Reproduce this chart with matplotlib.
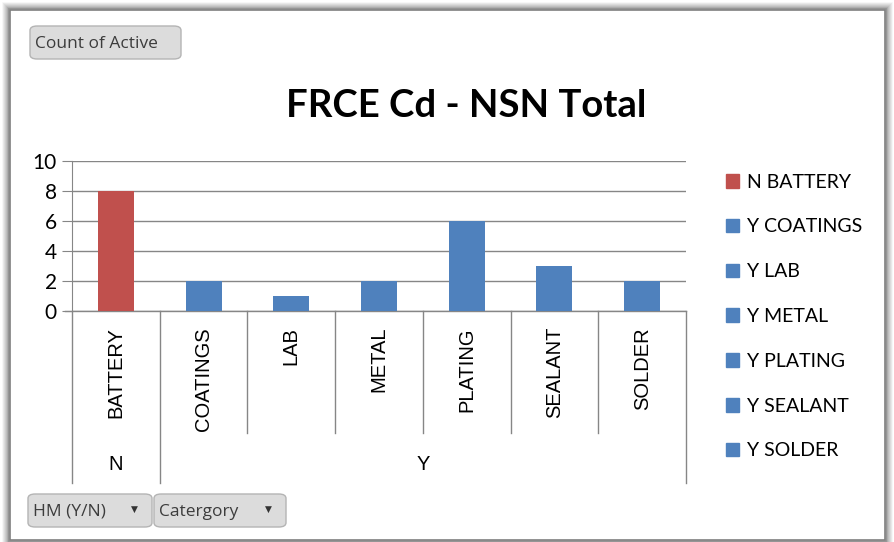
import matplotlib.pyplot as plt
from matplotlib.patches import Rectangle, FancyBboxPatch
from matplotlib.lines import Line2D

# data
categories = ['BATTERY', 'COATINGS', 'LAB', 'METAL', 'PLATING', 'SEALANT', 'SOLDER']
groups = ['N', 'Y', 'Y', 'Y', 'Y', 'Y', 'Y']
counts = [8, 2, 1, 2, 6, 3, 2]
yticks = [0, 2, 4, 6, 8, 10]

RED = '#C0504D'
BLUE = '#4F81BD'
GRID = '#868686'
W, H = 894, 542

plt.rcParams['font.family'] = ['Lato', 'DejaVu Sans']

fig = plt.figure(figsize=(W / 100, H / 100), dpi=100)


def fx(px):
    return px / W


def fy(py):
    return 1 - py / H


# frame with soft shadow (behind the axes)
for i, a in enumerate([0.04, 0.07, 0.10, 0.14, 0.18, 0.24, 0.32]):
    d = 7 - i
    fig.add_artist(Rectangle((fx(10 - d), fy(540 + d)), fx(875 + 2 * d), (530 + 2 * d) / H,
                             transform=fig.transFigure, fill=False,
                             edgecolor='black', alpha=a, lw=1.2, zorder=-5))
fig.add_artist(Rectangle((fx(10), fy(540)), fx(875), 530 / H, transform=fig.transFigure,
                         facecolor='white', edgecolor='#7f7f7f', lw=1.2, zorder=-4))


def button(x0, y0, x1, y1, label, arrow=False):
    fig.add_artist(FancyBboxPatch((fx(x0), fy(y1)), fx(x1 - x0), (y1 - y0) / H,
                                  boxstyle='round,pad=0,rounding_size=0.008',
                                  transform=fig.transFigure, facecolor='#DCDCDC',
                                  edgecolor='#B4B4B4', lw=1))
    fig.text(fx(x0 + 5), fy((y0 + y1) / 2 + 1), label, fontsize=12.5, color='#3c3c3c',
             ha='left', va='center', family=['Open Sans', 'DejaVu Sans'])
    if arrow:
        fig.text(fx(x1 - 18), fy((y0 + y1) / 2 - 1), '\u25BC', fontsize=6.5, color='#333333',
                 ha='center', va='center', family='DejaVu Sans')


button(30, 26, 181, 59, 'Count of Active')
button(28, 494, 152, 527, 'HM (Y/N)', arrow=True)
button(154, 494, 286, 527, 'Catergory', arrow=True)

fig.text(fx(466), fy(106), 'FRCE Cd - NSN Total', fontsize=27.5, fontweight='bold',
         ha='center', va='center')

# plot area
ax = fig.add_axes([fx(72), fy(311), fx(614), 150 / H])
ax.patch.set_alpha(0)
x = list(range(len(categories)))
colors = [RED if g == 'N' else BLUE for g in groups]
bars = ax.bar(x, counts, width=0.41, color=colors, zorder=3)
ax.set_xlim(-0.5, len(categories) - 0.5)
ax.set_ylim(0, 10)
ax.set_yticks(yticks)
ax.yaxis.grid(True, color=GRID, lw=1)
ax.set_axisbelow(True)
for s in ['top', 'right', 'bottom']:
    ax.spines[s].set_visible(False)
ax.spines['left'].set_color(GRID)
ax.tick_params(axis='y', length=7, color=GRID, labelsize=15, pad=4)
ax.set_xticks([])
ax.axhline(0, color=GRID, lw=1, xmin=-7 / 614, clip_on=False, zorder=2)

# category labels and group separators below the axis
tr = ax.get_xaxis_transform()
px_y = lambda py: (311 - py) / 150
for i, name in enumerate(categories):
    ax.text(i, px_y(327), name, transform=tr, rotation=90, ha='center', va='top',
            fontsize=14.5, family=['Liberation Sans', 'DejaVu Sans'])
bounds = [i - 0.5 for i in range(len(categories) + 1)]
for i, b in enumerate(bounds):
    outer = i == 0 or i == len(bounds) - 1 or groups[i - 1] != groups[i]
    bottom = px_y(483) if outer else px_y(433)
    ax.add_line(Line2D([b, b], [0, bottom], transform=tr, color=GRID, lw=1, clip_on=False))
group_names = []
for g in groups:
    if g not in group_names:
        group_names.append(g)
for g in group_names:
    idx = [i for i, gg in enumerate(groups) if gg == g]
    ax.text((idx[0] + idx[-1]) / 2, px_y(465), g, transform=tr, ha='center', va='center',
            fontsize=14.5, family=['Liberation Sans', 'DejaVu Sans'])

# legend
handles = [Rectangle((0, 0), 1, 1, color=c) for c in colors]
labels = [f'{g} {c}' for g, c in zip(groups, categories)]
fig.legend(handles, labels, loc='upper left', bbox_to_anchor=(fx(708), fy(156)),
           frameon=False, fontsize=14, handlelength=0.7, handleheight=0.7,
           handletextpad=0.4, labelspacing=1.43)

fig.savefig('out.png', dpi=100)
